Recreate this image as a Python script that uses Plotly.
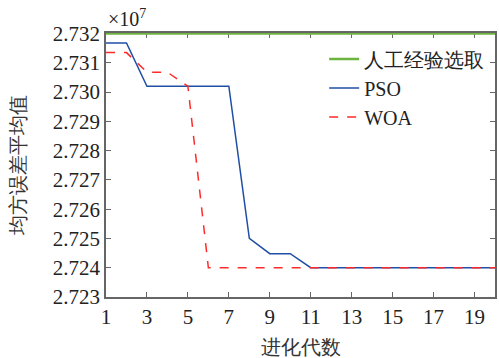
import plotly.graph_objects as go

generations = list(range(1, 21))
manual = [2.7320] * 20
pso = [2.73168, 2.73168, 2.73020, 2.73020, 2.73020, 2.73020, 2.73020, 2.72500,
       2.72448, 2.72448, 2.72400, 2.72400, 2.72400, 2.72400, 2.72400, 2.72400,
       2.72400, 2.72400, 2.72400, 2.72400]
woa = [2.73135, 2.73135, 2.73068, 2.73068, 2.73020, 2.72400, 2.72400, 2.72400,
       2.72400, 2.72400, 2.72400, 2.72400, 2.72400, 2.72400, 2.72400, 2.72400,
       2.72400, 2.72400, 2.72400, 2.72400]
x_ticks = [1, 3, 5, 7, 9, 11, 13, 15, 17, 19]
y_ticks = [2.723, 2.724, 2.725, 2.726, 2.727, 2.728, 2.729, 2.730, 2.731, 2.732]

FONT = "Times New Roman, Liberation Serif, serif"

fig = go.Figure()
fig.add_trace(go.Scatter(x=generations, y=manual, mode="lines", name="人工经验选取",
                         line=dict(color="#6db33f", width=2.5)))
fig.add_trace(go.Scatter(x=generations, y=pso, mode="lines", name="PSO",
                         line=dict(color="#1f4fa5", width=1.5)))
fig.add_trace(go.Scatter(x=generations, y=woa, mode="lines", name="WOA",
                         line=dict(color="#ff2a2a", width=1.5, dash="dash")))

axis_common = dict(showline=True, linecolor="#666666", linewidth=1.5, mirror="ticks",
                   ticks="inside", ticklen=5, tickcolor="#666666", tickwidth=1,
                   showgrid=False, zeroline=False, layer="below traces",
                   tickfont=dict(family=FONT, size=21, color="#222222"))

fig.update_layout(
    width=499, height=358,
    margin=dict(l=106, r=2, t=33, b=61),
    paper_bgcolor="white", plot_bgcolor="white",
    font=dict(family=FONT, color="#222222"),
    xaxis=dict(range=[1, 20], tickvals=x_ticks,
               title=dict(text="进化代数", font=dict(family=FONT, size=20, color="#333333"), standoff=13),
               **axis_common),
    yaxis=dict(range=[2.723, 2.73202], tickvals=y_ticks, tickformat=".3f",
               title=dict(text="均方误差平均值", font=dict(family=FONT, size=20, color="#333333"), standoff=22),
               **axis_common),
    legend=dict(x=0.985, y=0.975, xanchor="right", yanchor="top",
                bgcolor="rgba(255,255,255,0)", borderwidth=0,
                font=dict(family=FONT, size=20, color="#222222"),
                tracegroupgap=0),
    showlegend=True,
)
fig.add_annotation(text="×10<sup>7</sup>", xref="paper", yref="paper", x=0, y=1,
                   xanchor="left", yanchor="bottom", showarrow=False, yshift=1,
                   font=dict(family=FONT, size=20, color="#222222"))

fig.write_html("out.html")
